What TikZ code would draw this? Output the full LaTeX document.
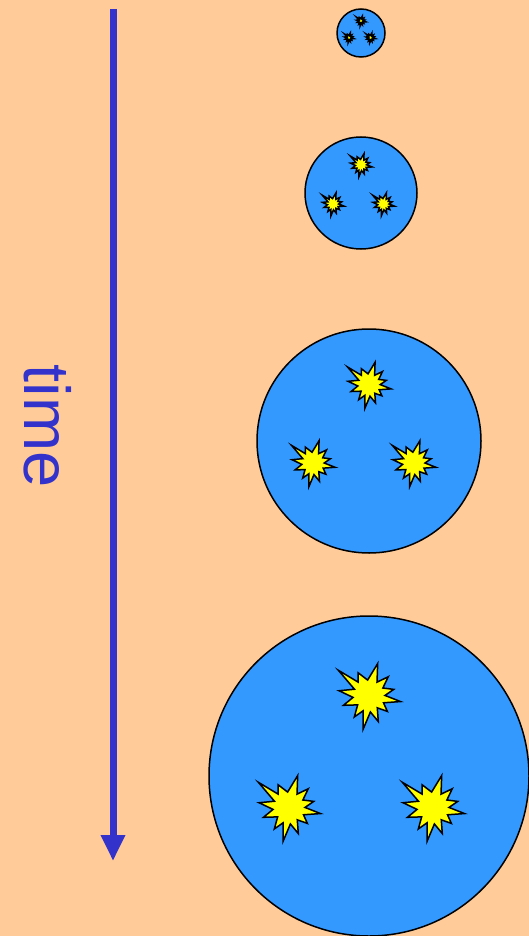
\documentclass[tikz,border=0pt]{standalone}
\usepackage{fontspec}
\setmainfont{Liberation Sans}
\usepackage{xcolor}
\usetikzlibrary{arrows.meta,calc}

\definecolor{peach}{HTML}{FFCC99}
\definecolor{cellblue}{HTML}{3399FF}
\definecolor{timeblue}{HTML}{3333CC}
\definecolor{burstyellow}{HTML}{FFFF00}

% one burst, centre (#1,#2), radius #3
\newcommand{\burst}[3]{%
  \draw[burstfill,shift={(#1,#2)},scale=#3]
    (10:1) -- (25:0.5) -- (40:0.75) -- (55:0.45) -- (70:0.85) -- (85:0.5)
    -- (100:1.05) -- (112:0.5) -- (125:0.8) -- (142:0.45) -- (160:0.85)
    -- (175:0.5) -- (190:0.95) -- (205:0.5) -- (220:1.25) -- (232:0.55)
    -- (245:0.8) -- (265:0.5) -- (285:1.05) -- (300:0.5) -- (315:0.85)
    -- (330:0.5) -- (345:0.8) -- (358:0.5) -- cycle;}

\begin{document}
\begin{tikzpicture}[x=1pt,y=-1pt,
  cell/.style={circle,draw=black,line width=1.5pt,fill=cellblue,inner sep=0pt},
  burstfill/.style={draw=black,fill=burstyellow,line width=1.5pt,line join=miter},
  timearrow/.style={draw=timeblue,line width=7pt,-{Triangle[length=26pt,width=23pt]}},
  timelabel/.style={text=timeblue,inner sep=0pt,font=\fontsize{65}{78}\selectfont}]
  \useasboundingbox (0,0) rectangle (529,936);
  \fill[peach] (0,0) rectangle (529,936);

  % time axis
  \coordinate (t0) at (113,9);
  \coordinate (t1) at (113,861);
  \draw[timearrow] (t0) -- (t1);
  \node[timelabel,rotate=-90] (lbl) at (48,426) {time};

  % growing cells, three bursts each
  \foreach \cx/\cy/\R [count=\i] in {361/33/24, 361/193/56, 369/441/112, 369/776/160} {
    \node[cell,minimum size=2*\R pt] (c\i) at (\cx,\cy) {};
    \burst{\cx}{\cy-0.5*\R}{0.2*\R}
    \burst{\cx-0.5*\R}{\cy+0.2*\R}{0.2*\R}
    \burst{\cx+0.4*\R}{\cy+0.2*\R}{0.2*\R}
  }
\end{tikzpicture}
\end{document}
